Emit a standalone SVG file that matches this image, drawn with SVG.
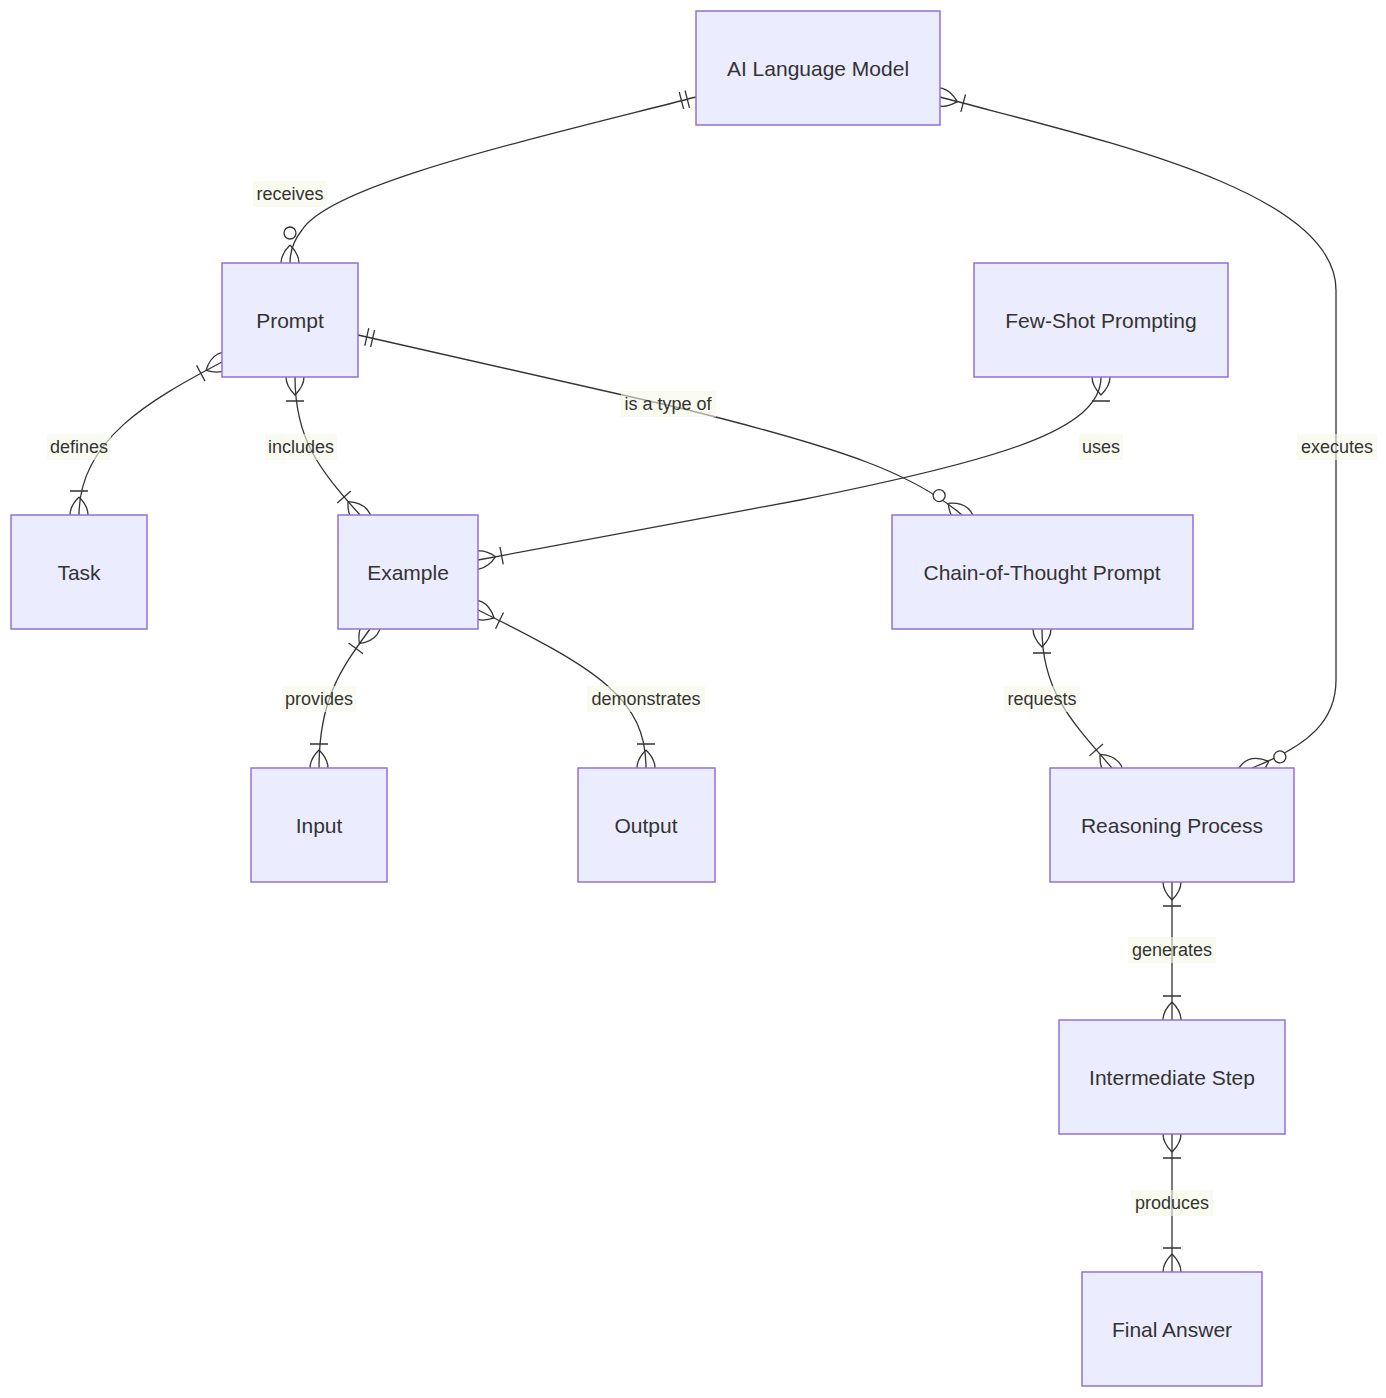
<svg xmlns="http://www.w3.org/2000/svg" width="1386" height="1398" viewBox="0 0 1386 1398">
<style>
.box{fill:#ECECFF;stroke:#9370DB;stroke-width:1.5}
.nt{font-family:"Liberation Sans",Arial,sans-serif;font-size:21px;fill:#333;text-anchor:middle;dominant-baseline:central}
.e{fill:none;stroke:#333;stroke-width:1.3}
.lb{fill:#f6f8e6;opacity:0.6}
.lt{font-family:"Liberation Sans",Arial,sans-serif;font-size:18px;fill:#333;text-anchor:middle;dominant-baseline:central}
.m{fill:none;stroke:#333;stroke-width:1.3}
.mc{fill:#fff;stroke:#333;stroke-width:1.3}
</style>
<defs>
<marker id="oneS" refX="0" refY="9" markerWidth="18" markerHeight="18" markerUnits="userSpaceOnUse" orient="auto"><path class="m" d="M9,0 L9,18 M15,0 L15,18"/></marker>
<marker id="zmE" refX="39" refY="18" markerWidth="57" markerHeight="36" markerUnits="userSpaceOnUse" orient="auto"><circle class="mc" cx="9" cy="18" r="6"/><path class="m" d="M21,18 Q39,0 57,18 Q39,36 21,18"/></marker>
<marker id="omS" refX="18" refY="18" markerWidth="45" markerHeight="36" markerUnits="userSpaceOnUse" orient="auto"><path class="m" d="M0,18 Q18,0 36,18 Q18,36 0,18 M42,9 L42,27"/></marker>
<marker id="omE" refX="27" refY="18" markerWidth="45" markerHeight="36" markerUnits="userSpaceOnUse" orient="auto"><path class="m" d="M3,9 L3,27 M9,18 Q27,0 45,18 Q27,36 9,18"/></marker>
</defs>
<g id="connectors">
<path class="e" d="M696,97 C520,142 330,185 302,230 Q290,245 290,263" marker-start="url(#oneS)" marker-end="url(#zmE)"/>
<path class="e" d="M940,97 C1100,140 1336,190 1336,290 L1336,680 C1336,720 1310,745 1252,768" marker-start="url(#omS)" marker-end="url(#zmE)"/>
<path class="e" d="M222,362 C150,400 79,440 79,515" marker-start="url(#omS)" marker-end="url(#omE)"/>
<path class="e" d="M295,377 C295,440 320,470 360,515" marker-start="url(#omS)" marker-end="url(#omE)"/>
<path class="e" d="M358,335 L680,408 C850,450 915,475 962,515" marker-start="url(#oneS)" marker-end="url(#zmE)"/>
<path class="e" d="M1101,377 C1101,430 1000,460 800,500 L478,560" marker-start="url(#omS)" marker-end="url(#omE)"/>
<path class="e" d="M370,629 C340,670 319,700 319,768" marker-start="url(#omS)" marker-end="url(#omE)"/>
<path class="e" d="M478,610 C600,670 646,700 646,768" marker-start="url(#omS)" marker-end="url(#omE)"/>
<path class="e" d="M1042,629 C1042,690 1070,720 1112,768" marker-start="url(#omS)" marker-end="url(#omE)"/>
<path class="e" d="M1172,882 L1172,1020" marker-start="url(#omS)" marker-end="url(#omE)"/>
<path class="e" d="M1172,1134 L1172,1272" marker-start="url(#omS)" marker-end="url(#omE)"/>
</g>
<g id="labels">
<rect class="lb" x="253" y="181" width="74" height="26"/><text class="lt" x="290" y="194">receives</text>
<rect class="lb" x="1297" y="434" width="80" height="26"/><text class="lt" x="1337" y="447">executes</text>
<rect class="lb" x="47" y="434" width="64" height="26"/><text class="lt" x="79" y="447">defines</text>
<rect class="lb" x="265" y="434" width="72" height="26"/><text class="lt" x="301" y="447">includes</text>
<rect class="lb" x="621" y="391" width="95" height="26"/><text class="lt" x="668" y="404">is a type of</text>
<rect class="lb" x="1079" y="434" width="44" height="26"/><text class="lt" x="1101" y="447">uses</text>
<rect class="lb" x="282" y="686" width="74" height="26"/><text class="lt" x="319" y="699">provides</text>
<rect class="lb" x="587" y="686" width="118" height="26"/><text class="lt" x="646" y="699">demonstrates</text>
<rect class="lb" x="1004" y="686" width="76" height="26"/><text class="lt" x="1042" y="699">requests</text>
<rect class="lb" x="1128" y="937" width="88" height="26"/><text class="lt" x="1172" y="950">generates</text>
<rect class="lb" x="1131" y="1190" width="82" height="26"/><text class="lt" x="1172" y="1203">produces</text>
</g>
<g id="ai"><rect class="box" x="696" y="11" width="244" height="114"/><text class="nt" x="818" y="68">AI Language Model</text></g>
<g id="prompt"><rect class="box" x="222" y="263" width="136" height="114"/><text class="nt" x="290" y="320">Prompt</text></g>
<g id="fewshot"><rect class="box" x="974" y="263" width="254" height="114"/><text class="nt" x="1101" y="320">Few-Shot Prompting</text></g>
<g id="task"><rect class="box" x="11" y="515" width="136" height="114"/><text class="nt" x="79" y="572">Task</text></g>
<g id="example"><rect class="box" x="338" y="515" width="140" height="114"/><text class="nt" x="408" y="572">Example</text></g>
<g id="cot"><rect class="box" x="892" y="515" width="301" height="114"/><text class="nt" x="1042" y="572">Chain-of-Thought Prompt</text></g>
<g id="input"><rect class="box" x="251" y="768" width="136" height="114"/><text class="nt" x="319" y="825">Input</text></g>
<g id="output"><rect class="box" x="578" y="768" width="137" height="114"/><text class="nt" x="646" y="825">Output</text></g>
<g id="reasoning"><rect class="box" x="1050" y="768" width="244" height="114"/><text class="nt" x="1172" y="825">Reasoning Process</text></g>
<g id="intermediate"><rect class="box" x="1059" y="1020" width="226" height="114"/><text class="nt" x="1172" y="1077">Intermediate Step</text></g>
<g id="final"><rect class="box" x="1082" y="1272" width="180" height="114"/><text class="nt" x="1172" y="1329">Final Answer</text></g>
</svg>
